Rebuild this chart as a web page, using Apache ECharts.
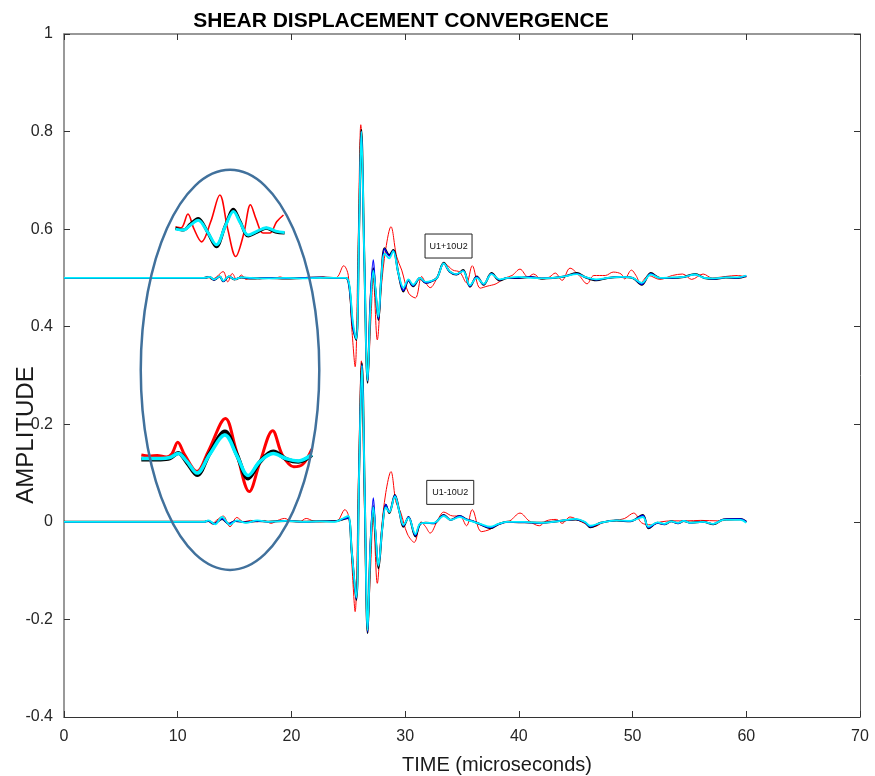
<!DOCTYPE html>
<html><head><meta charset="utf-8">
<script src="https://cdn.jsdelivr.net/npm/echarts@6/dist/echarts.min.js"></script>
<style>html,body{margin:0;padding:0;background:#fff}#c{width:875px;height:776px}</style>
</head><body><div id="c"></div>
<script>
// ---------- text ----------
const titleText = 'SHEAR DISPLACEMENT CONVERGENCE';
const xAxisName = 'TIME (microseconds)';
const yAxisName = 'AMPLITUDE';
const xTicks = [0, 10, 20, 30, 40, 50, 60, 70];
const yTicks = [-0.4, -0.2, 0, 0.2, 0.4, 0.6, 0.8, 1];
const boxLabels = ['U1+10U2', 'U1-10U2'];
const boxAnchors = [[31.75, 0.59], [31.9, 0.085]];   // top-left corner of each label box (data units)
const ellipseParams = [14.6, 0.3115, 7.85, 0.41];      // centre t, centre v, half-width t, half-height v

// ---------- upper trace (U1+10U2, offset 0.5) ----------
const upperRed = [[0,0.5],[12.3,0.5],[12.6,0.503],[13.0,0.497],[13.4,0.502],[14.0,0.513],[14.4,0.492],[14.8,0.509],[15.2,0.496],[15.6,0.506],[16.0,0.497],[16.6,0.501],[17.2,0.498],[17.8,0.5],[18.4,0.499],[19.0,0.502],[19.6,0.499],[20.2,0.5],[21.0,0.499],[21.6,0.5],[22.2,0.5],[22.8,0.502],[23.4,0.499],[24.0,0.501],[24.6,0.525],[25.0,0.505],[25.3,0.4],[25.6,0.318],[25.85,0.55],[26.1,0.814],[26.4,0.55],[26.7,0.29],[27.0,0.42],[27.2,0.5],[27.55,0.373],[27.9,0.48],[28.3,0.56],[28.75,0.605],[29.25,0.544],[29.7,0.516],[30.3,0.469],[30.9,0.459],[31.45,0.503],[31.8,0.49],[32.2,0.48],[32.8,0.5],[33.4,0.531],[34.2,0.516],[34.8,0.512],[35.4,0.49],[35.9,0.525],[36.6,0.479],[37.2,0.483],[38.0,0.488],[38.8,0.5],[39.4,0.505],[40.1,0.518],[40.8,0.502],[41.3,0.508],[42.0,0.497],[42.7,0.502],[43.2,0.51],[43.8,0.495],[44.5,0.52],[45.3,0.505],[46.0,0.488],[46.6,0.505],[47.6,0.505],[48.3,0.512],[49.0,0.508],[49.3,0.498],[49.9,0.516],[50.3,0.505],[50.7,0.49],[51.4,0.505],[52.4,0.497],[53.5,0.505],[54.4,0.508],[55.2,0.497],[56.2,0.508],[57.0,0.5],[58.2,0.503],[59.2,0.505],[60,0.502]];
const upperBlack = [[0,0.5],[12.3,0.5],[12.8,0.502],[13.2,0.496],[13.7,0.503],[14.0,0.493],[14.5,0.503],[15.0,0.497],[15.6,0.501],[16.5,0.499],[18,0.5],[19.5,0.499],[21,0.5],[22.5,0.501],[24,0.5],[24.8,0.5],[25.1,0.48],[25.4,0.4],[25.7,0.373],[25.95,0.6],[26.15,0.803],[26.4,0.55],[26.7,0.285],[26.95,0.45],[27.2,0.52],[27.4,0.47],[27.65,0.414],[27.9,0.5],[28.2,0.561],[28.6,0.547],[28.95,0.557],[29.4,0.51],[29.85,0.472],[30.3,0.495],[30.7,0.483],[31.3,0.5],[31.8,0.49],[32.3,0.493],[32.8,0.5],[33.4,0.531],[33.9,0.513],[34.5,0.507],[35.1,0.516],[35.7,0.482],[36.3,0.503],[36.9,0.486],[37.6,0.51],[38.3,0.495],[39,0.5],[40,0.5],[41,0.502],[42,0.499],[43,0.5],[44,0.503],[45.1,0.51],[45.8,0.502],[46.8,0.495],[47.8,0.5],[49,0.502],[50,0.5],[50.8,0.486],[51.6,0.51],[52.4,0.5],[53.5,0.5],[54.5,0.502],[55.5,0.508],[56.3,0.5],[57.2,0.498],[58.2,0.501],[59.2,0.5],[60,0.504]];
const upperBlue = [[0,0.5],[12.3,0.5],[12.8,0.502],[13.2,0.496],[13.7,0.503],[14.0,0.493],[14.5,0.503],[15.0,0.497],[15.6,0.501],[16.5,0.499],[18,0.5],[19.5,0.499],[21,0.5],[22.5,0.501],[24,0.5],[24.8,0.5],[25.1,0.48],[25.4,0.4],[25.7,0.375],[25.95,0.6],[26.15,0.8],[26.4,0.55],[26.7,0.288],[26.95,0.46],[27.2,0.537],[27.4,0.475],[27.65,0.416],[27.9,0.5],[28.2,0.56],[28.6,0.545],[28.95,0.556],[29.4,0.51],[29.85,0.474],[30.3,0.495],[30.7,0.484],[31.3,0.5],[31.8,0.49],[32.3,0.493],[32.8,0.5],[33.4,0.53],[33.9,0.513],[34.5,0.507],[35.1,0.515],[35.7,0.483],[36.3,0.502],[36.9,0.487],[37.6,0.509],[38.3,0.496],[39,0.5],[40,0.5],[41,0.502],[42,0.499],[43,0.5],[44,0.503],[45.1,0.509],[45.8,0.502],[46.8,0.496],[47.8,0.5],[49,0.502],[50,0.5],[50.8,0.487],[51.6,0.509],[52.4,0.5],[53.5,0.5],[54.5,0.502],[55.5,0.507],[56.3,0.5],[57.2,0.498],[58.2,0.501],[59.2,0.5],[60,0.504]];
const upperCyan = [[0,0.5],[12.3,0.5],[12.8,0.502],[13.2,0.497],[13.7,0.503],[14.0,0.494],[14.5,0.503],[15.0,0.497],[15.6,0.501],[16.5,0.5],[18,0.499],[19.5,0.5],[21,0.499],[22.5,0.5],[24,0.5],[24.8,0.5],[25.1,0.485],[25.4,0.41],[25.7,0.375],[25.95,0.6],[26.15,0.8],[26.4,0.55],[26.7,0.29],[26.95,0.44],[27.2,0.515],[27.4,0.475],[27.65,0.42],[27.9,0.5],[28.2,0.55],[28.6,0.54],[28.95,0.555],[29.4,0.51],[29.85,0.48],[30.3,0.497],[30.7,0.486],[31.3,0.5],[31.8,0.492],[32.3,0.494],[32.8,0.5],[33.4,0.53],[33.9,0.514],[34.5,0.508],[35.1,0.514],[35.7,0.485],[36.3,0.5],[36.9,0.488],[37.6,0.508],[38.3,0.497],[39,0.5],[40,0.502],[41,0.5],[42,0.499],[43,0.5],[44,0.503],[45.1,0.508],[45.8,0.502],[46.8,0.497],[47.8,0.5],[49,0.502],[50,0.5],[50.8,0.49],[51.6,0.507],[52.4,0.5],[53.5,0.501],[54.5,0.502],[55.5,0.507],[56.3,0.5],[57.2,0.499],[58.2,0.501],[59.2,0.501],[60,0.505]];

// ---------- lower trace (U1-10U2, offset 0) ----------
const lowerRed = [[0,0],[12.3,0],[12.6,0.003],[13.0,-0.004],[13.4,0.003],[14.0,0.012],[14.6,-0.01],[15.2,0.009],[15.8,0.0],[16.4,0.003],[17.0,0.0],[17.6,0.003],[18.2,-0.003],[18.8,0.003],[19.4,0.007],[20.0,0.001],[20.7,0.0],[21.3,0.007],[21.9,0.002],[22.5,0.0],[23.2,0.001],[24.0,0.002],[24.7,0.025],[25.1,0.005],[25.3,-0.08],[25.6,-0.184],[25.9,0.1],[26.15,0.33],[26.4,0.05],[26.7,-0.225],[26.95,-0.1],[27.2,0.01],[27.55,-0.126],[27.9,-0.02],[28.3,0.06],[28.75,0.103],[29.2,0.04],[29.6,0.02],[30.2,-0.025],[30.8,-0.042],[31.4,0.0],[31.8,-0.01],[32.2,-0.023],[32.8,0.0],[33.4,0.02],[34.2,0.012],[34.8,0.012],[35.4,-0.008],[35.9,0.025],[36.7,-0.02],[37.5,-0.015],[38.3,-0.003],[39.2,0.002],[40.1,0.018],[40.9,0.002],[41.8,-0.008],[42.4,0.002],[43.3,0.005],[43.8,-0.003],[44.5,0.01],[45.5,0.0],[46.6,-0.01],[47.5,0.0],[48.4,0.003],[49.3,0.007],[50.1,0.018],[50.8,-0.002],[51.6,-0.006],[52.5,0.0],[53.5,0.002],[54.7,0.002],[56,0.003],[57.5,0.002],[59,0.004],[59.6,0.004],[60,0.0]];
const lowerBlack = [[0,0],[12.3,0],[12.7,0.002],[13.2,-0.004],[13.9,0.006],[14.5,-0.004],[15.1,0.002],[16,-0.001],[17,0.002],[18,0.0],[19.5,0.002],[21,0.0],[22.5,0.001],[23.8,0.001],[24.6,0.006],[25.0,0.008],[25.3,-0.06],[25.7,-0.16],[25.95,0.1],[26.2,0.325],[26.45,0.05],[26.7,-0.228],[26.95,-0.05],[27.2,0.032],[27.4,-0.03],[27.65,-0.095],[28.0,-0.01],[28.3,0.035],[28.6,0.018],[29.1,0.055],[29.5,0.02],[29.85,-0.01],[30.3,0.01],[30.9,-0.03],[31.3,-0.005],[31.8,-0.002],[32.5,-0.003],[33.4,0.014],[34.0,0.004],[34.8,0.012],[35.4,0.005],[36.0,0.001],[36.6,-0.005],[37.5,-0.013],[38.2,-0.005],[39,0.0],[40.5,-0.001],[42,-0.002],[43,0.0],[44.2,0.004],[45,0.005],[45.8,-0.001],[46.3,-0.011],[47.2,-0.002],[48.6,0.003],[49.8,0.001],[50.9,0.014],[51.4,-0.013],[52.2,-0.002],[52.8,-0.005],[53.4,0.001],[54,-0.003],[54.5,0.002],[55.1,-0.002],[56.2,0.0],[57.1,-0.005],[58.0,0.005],[59.5,0.006],[60,0.0]];
const lowerBlue = [[0,0],[12.3,0],[12.7,0.002],[13.2,-0.004],[13.9,0.006],[14.5,-0.004],[15.1,0.002],[16,-0.001],[17,0.002],[18,0.0],[19.5,0.002],[21,0.0],[22.5,0.001],[23.8,0.001],[24.6,0.006],[25.0,0.008],[25.3,-0.06],[25.7,-0.158],[25.95,0.1],[26.2,0.322],[26.45,0.05],[26.7,-0.226],[26.95,-0.04],[27.2,0.049],[27.4,-0.02],[27.65,-0.09],[28.0,-0.01],[28.3,0.036],[28.6,0.02],[29.1,0.054],[29.5,0.02],[29.85,-0.008],[30.3,0.01],[30.9,-0.028],[31.3,-0.005],[31.8,-0.002],[32.5,-0.003],[33.4,0.014],[34.0,0.004],[34.8,0.012],[35.4,0.005],[36.0,0.001],[36.6,-0.005],[37.5,-0.012],[38.2,-0.005],[39,0.0],[40.5,-0.001],[42,-0.002],[43,0.0],[44.2,0.004],[45,0.005],[45.8,-0.001],[46.3,-0.01],[47.2,-0.002],[48.6,0.003],[49.8,0.001],[50.9,0.013],[51.4,-0.012],[52.2,-0.002],[52.8,-0.005],[53.4,0.001],[54,-0.003],[54.5,0.002],[55.1,-0.002],[56.2,0.0],[57.1,-0.004],[58.0,0.005],[59.5,0.006],[60,0.0]];
const lowerCyan = [[0,0],[12.3,0],[12.7,0.003],[13.3,-0.005],[13.9,0.01],[14.6,-0.006],[15.2,0.003],[16,-0.002],[17,0.003],[18,0.0],[19.5,0.002],[21,0.0],[22.5,0.001],[23.8,0.0],[24.6,0.008],[25.0,0.012],[25.3,-0.06],[25.7,-0.155],[25.95,0.1],[26.2,0.32],[26.45,0.05],[26.7,-0.222],[26.95,-0.05],[27.2,0.03],[27.4,-0.025],[27.65,-0.09],[28.0,-0.01],[28.3,0.03],[28.6,0.02],[29.1,0.052],[29.5,0.02],[29.85,-0.006],[30.3,0.008],[30.9,-0.025],[31.3,-0.004],[31.8,-0.002],[32.5,-0.002],[33.4,0.012],[34.0,0.004],[34.8,0.01],[35.4,0.004],[36.0,0.0],[36.6,-0.004],[37.5,-0.01],[38.2,-0.004],[39,0.0],[40.5,0.0],[42,-0.002],[43,0.0],[44.2,0.004],[45,0.006],[45.8,0.0],[46.3,-0.008],[47.2,-0.002],[48.6,0.003],[49.8,0.002],[50.9,0.01],[51.4,-0.01],[52.2,-0.001],[52.8,-0.004],[53.4,0.001],[54,-0.002],[54.5,0.002],[55.1,-0.002],[56.2,0.0],[57.1,-0.004],[58.0,0.004],[59.5,0.004],[60,-0.002]];

// ---------- magnified insets (inside the ellipse) ----------
const insetUpperRed = [[9.8,0.605],[10.3,0.603],[10.9,0.631],[11.4,0.602],[12.1,0.574],[12.9,0.615],[13.7,0.67],[14.4,0.6],[15.1,0.544],[15.8,0.59],[16.4,0.65],[16.9,0.62],[17.5,0.592],[18.1,0.592],[18.7,0.615],[19.3,0.629]];
const insetUpperBlack = [[9.8,0.602],[10.5,0.598],[11.1,0.61],[11.8,0.622],[12.6,0.595],[13.4,0.564],[14.2,0.608],[14.9,0.641],[15.5,0.615],[16.2,0.586],[17.0,0.594],[17.8,0.602],[18.6,0.594],[19.4,0.592]];
const insetUpperCyan = [[9.8,0.6],[10.5,0.598],[11.1,0.608],[11.8,0.618],[12.6,0.595],[13.4,0.568],[14.2,0.607],[14.9,0.636],[15.5,0.613],[16.2,0.588],[17.0,0.596],[17.8,0.603],[18.6,0.596],[19.4,0.593]];
const insetLowerRed = [[6.8,0.137],[7.5,0.135],[8.2,0.136],[9.0,0.133],[9.5,0.14],[10.0,0.163],[10.6,0.138],[11.7,0.103],[12.7,0.145],[14.2,0.212],[15.1,0.15],[16.3,0.062],[17.2,0.12],[18.35,0.187],[19.2,0.137],[20.2,0.113],[21.0,0.118],[21.8,0.149]];
const insetLowerBlack = [[6.8,0.128],[8.5,0.128],[9.3,0.13],[10.05,0.141],[10.8,0.122],[11.7,0.096],[12.8,0.14],[14.15,0.185],[15.2,0.138],[16.2,0.089],[17.2,0.122],[18.4,0.144],[19.6,0.128],[20.6,0.123],[21.8,0.137]];
const insetLowerCyan = [[6.8,0.13],[8.5,0.13],[9.3,0.132],[10.05,0.14],[10.8,0.124],[11.7,0.1],[12.8,0.138],[14.15,0.178],[15.2,0.136],[16.2,0.095],[17.2,0.123],[18.4,0.14],[19.6,0.129],[20.6,0.125],[21.8,0.138]];

const chart = echarts.init(document.getElementById('c'));
const FONT = 'Liberation Sans, Arial, sans-serif';
function line(data, color, width, z) {
  return { type: 'line', data: data, showSymbol: false, symbol: 'none', smooth: 0.35,
           lineStyle: { color: color, width: width }, z: z, animation: false, silent: true };
}
const fmt = v => String(Math.round(v * 10) / 10);
const tickStyle = { show: true, inside: true, length: 6, lineStyle: { color: '#333', width: 1 } };
chart.setOption({
  animation: false,
  title: { text: titleText, left: 396, top: 6, textAlign: 'center',
           textStyle: { fontFamily: FONT, fontWeight: 'bold', fontSize: 21, color: '#000' } },
  grid: { left: 64, right: 15, top: 34, bottom: 59, containLabel: false },
  xAxis: [
    { type: 'value', min: 0, max: 70, interval: 10, position: 'bottom',
      axisLine: { onZero: false, lineStyle: { color: '#333', width: 1 } },
      axisTick: tickStyle,
      axisLabel: { fontFamily: FONT, fontSize: 16, color: '#262626', margin: 12 },
      splitLine: { show: false } },
    { type: 'value', min: 0, max: 70, interval: 10, position: 'top',
      axisLine: { onZero: false, lineStyle: { color: '#777', width: 1.5 } },
      axisTick: tickStyle,
      axisLabel: { show: false }, splitLine: { show: false } }
  ],
  yAxis: [
    { type: 'value', min: -0.4, max: 1, interval: 0.2, position: 'left',
      axisLine: { show: true, onZero: false, lineStyle: { color: '#777', width: 1.5 } },
      axisTick: tickStyle,
      axisLabel: { fontFamily: FONT, fontSize: 16, color: '#262626', margin: 11, formatter: fmt },
      splitLine: { show: false } },
    { type: 'value', min: -0.4, max: 1, interval: 0.2, position: 'right',
      axisLine: { show: true, onZero: false, lineStyle: { color: '#555', width: 1 } },
      axisTick: tickStyle,
      axisLabel: { show: false }, splitLine: { show: false } }
  ],
  series: [
    line(upperRed, '#ff0000', 1, 2), line(upperBlack, '#000000', 2, 3), line(upperBlue, '#0000ff', 1.3, 4), line(upperCyan, '#00f0ff', 1.8, 5),
    line(lowerRed, '#ff0000', 1, 2), line(lowerBlack, '#000000', 2, 3), line(lowerBlue, '#0000ff', 1.3, 4), line(lowerCyan, '#00f0ff', 1.8, 5),
    line(insetUpperRed, '#ff0000', 1.6, 2), line(insetUpperBlack, '#000000', 3, 3), line(insetUpperCyan, '#00f0ff', 3, 5),
    line(insetLowerRed, '#ff0000', 3, 2), line(insetLowerBlack, '#000000', 4, 3), line(insetLowerCyan, '#00f0ff', 3.5, 5)
  ]
});

const P = (t, v) => chart.convertToPixel({ gridIndex: 0 }, [t, v]);
const ec = P(ellipseParams[0], ellipseParams[1]);
const eR = P(ellipseParams[0] + ellipseParams[2], ellipseParams[1] + ellipseParams[3]);
const graphics = [
  { type: 'ellipse', shape: { cx: ec[0], cy: ec[1], rx: eR[0] - ec[0], ry: ec[1] - eR[1] },
    style: { fill: 'none', stroke: '#41719c', lineWidth: 2.5 }, z: 10, silent: true },
  { type: 'text', x: 26, y: 435, rotation: Math.PI / 2,
    style: { text: yAxisName, fontFamily: FONT, fontSize: 24, fill: '#1a1a1a', align: 'center', verticalAlign: 'middle' } },
  { type: 'text', x: 497, y: 765,
    style: { text: xAxisName, fontFamily: FONT, fontSize: 20, fill: '#1a1a1a', align: 'center', verticalAlign: 'middle' } }
];
boxLabels.forEach((lab, i) => {
  const p = P(boxAnchors[i][0], boxAnchors[i][1]);
  graphics.push({ type: 'rect', shape: { x: p[0], y: p[1], width: 47, height: 24 },
    style: { fill: '#fff', stroke: '#222', lineWidth: 1 }, z: 20 });
  graphics.push({ type: 'text', x: p[0] + 23.5, y: p[1] + 12, z: 21,
    style: { text: lab, fontFamily: FONT, fontSize: 9, fill: '#111', align: 'center', verticalAlign: 'middle' } });
});
chart.setOption({ graphic: graphics });
</script></body></html>
